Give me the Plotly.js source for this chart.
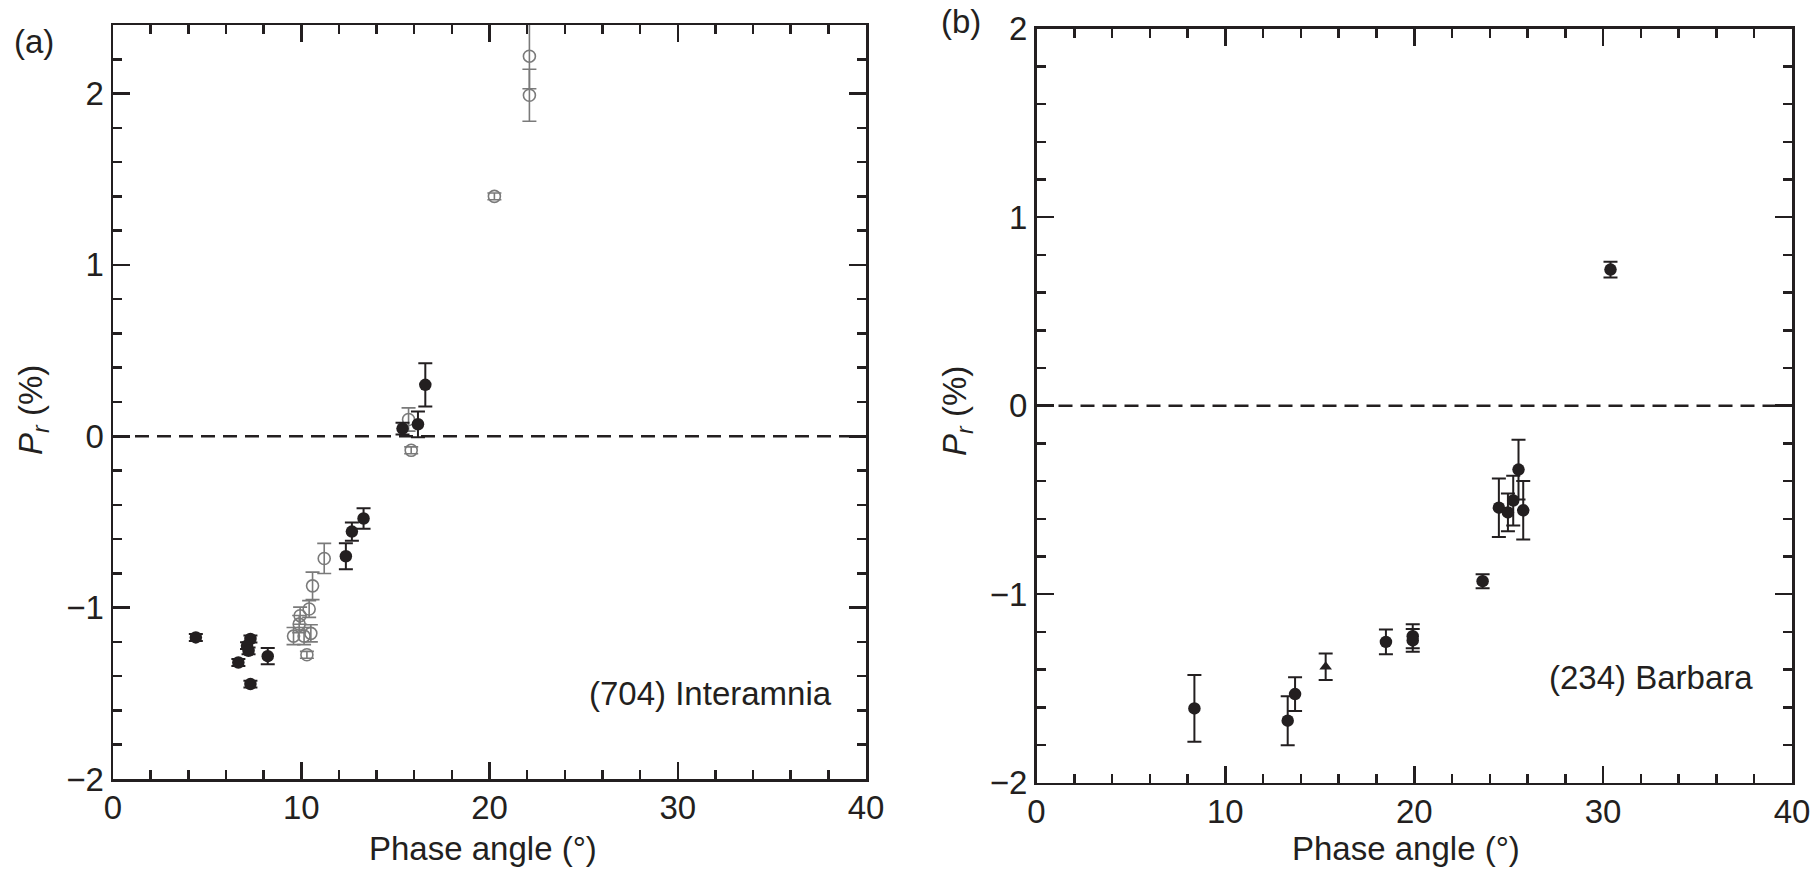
<!DOCTYPE html>
<html>
<head>
<meta charset="utf-8">
<script src="https://cdn.plot.ly/plotly-3.0.1.min.js"></script>
<style>html,body{margin:0;padding:0;background:#fff;}#chart{width:1816px;height:871px;}</style>
</head>
<body>
<div id="chart"></div>
<script>
// ---- Panel (a): (704) Interamnia ----
const aFilledX = [4.40, 6.66, 7.30, 7.12, 7.20, 7.30, 8.22, 12.37, 12.69, 13.31, 15.38, 16.20, 16.59];
const aFilledY = [-1.174, -1.320, -1.183, -1.222, -1.252, -1.446, -1.283, -0.700, -0.556, -0.480, 0.045, 0.070, 0.300];
const aFilledErr = [0.02, 0.02, 0.02, 0.02, 0.02, 0.02, 0.047, 0.076, 0.053, 0.060, 0.034, 0.075, 0.126];

const aOpenX = [15.70, 15.84, 11.22, 10.60, 10.42, 9.94, 9.89, 9.59, 10.15, 10.51, 10.30, 20.26, 22.12, 22.12];
const aOpenY = [0.098, -0.082, -0.713, -0.873, -1.008, -1.047, -1.096, -1.166, -1.166, -1.150, -1.275, 1.400, 2.218, 1.990];
const aOpenErr = [0.068, 0.02, 0.088, 0.080, 0.049, 0.05, 0.05, 0.05, 0.05, 0.05, 0.02, 0.02, 0.19, 0.152];

// ---- Panel (b): (234) Barbara ----
const bFilledX = [8.36, 13.30, 13.69, 18.50, 19.92, 19.92, 23.62, 24.48, 24.96, 25.24, 25.52, 25.77, 30.39];
const bFilledY = [-1.606, -1.671, -1.530, -1.253, -1.223, -1.245, -0.931, -0.541, -0.566, -0.503, -0.339, -0.555, 0.722];
const bFilledErr = [0.177, 0.130, 0.089, 0.066, 0.064, 0.060, 0.037, 0.155, 0.100, 0.132, 0.159, 0.155, 0.042];

const bTriX = [15.31];
const bTriY = [-1.385];
const bTriErr = [0.07];

const xTickVals = [0, 10, 20, 30, 40];
const xTitle = 'Phase angle (°)';
const yTitle = '<i>P</i><sub><i>r</i></sub> (%)';
const labelA = '(704) Interamnia';
const labelB = '(234) Barbara';

const INK = '#231f20';
const GREY = '#7a7a7a';
const FONT = 'Liberation Sans, Arial, Helvetica, sans-serif';
const W = 1816, H = 871;

function errBar(arr, color, thick) {
  return {type: 'data', array: arr, visible: true, color: color, thickness: thick, width: 7};
}

const traces = [
  {x: aOpenX, y: aOpenY, xaxis: 'x', yaxis: 'y', mode: 'markers', type: 'scatter',
   marker: {symbol: 'circle-open', size: 12, color: GREY, line: {width: 1.6, color: GREY}},
   error_y: errBar(aOpenErr, GREY, 1.6), cliponaxis: true},
  {x: aFilledX, y: aFilledY, xaxis: 'x', yaxis: 'y', mode: 'markers', type: 'scatter',
   marker: {symbol: 'circle', size: 12.5, color: INK},
   error_y: errBar(aFilledErr, INK, 2), cliponaxis: true},
  {x: bFilledX, y: bFilledY, xaxis: 'x2', yaxis: 'y2', mode: 'markers', type: 'scatter',
   marker: {symbol: 'circle', size: 12.5, color: INK},
   error_y: errBar(bFilledErr, INK, 2), cliponaxis: true},
  {x: bTriX, y: bTriY, xaxis: 'x2', yaxis: 'y2', mode: 'markers', type: 'scatter',
   marker: {symbol: 'triangle-up', size: 11, color: INK},
   error_y: errBar(bTriErr, INK, 2), cliponaxis: true}
];

function xAxis(domain, anchor) {
  return {
    domain: domain, anchor: anchor, range: [0, 40], tickvals: xTickVals,
    ticks: 'inside', ticklen: 17, tickwidth: 2.5, tickcolor: INK,
    showline: true, linecolor: INK, linewidth: 2.5, mirror: 'ticks',
    showgrid: false, zeroline: false, automargin: false,
    ticklabelstandoff: -2,
    tickfont: {family: FONT, size: 33, color: INK},
    minor: {dtick: 2, tick0: 0, ticks: 'inside', ticklen: 9, tickwidth: 2.5, tickcolor: INK, showgrid: false}
  };
}
function yAxis(domain, anchor, range) {
  return {
    domain: domain, anchor: anchor, range: range, dtick: 1, tick0: 0,
    ticks: 'inside', ticklen: 17, tickwidth: 2.5, tickcolor: INK,
    showline: true, linecolor: INK, linewidth: 2.5, mirror: 'ticks',
    showgrid: false, zeroline: false, automargin: false,
    tickfont: {family: FONT, size: 33, color: INK},
    minor: {dtick: 0.2, tick0: 0, ticks: 'inside', ticklen: 9, tickwidth: 2.5, tickcolor: INK, showgrid: false}
  };
}

function ann(text, x, y, extra) {
  return Object.assign({text: text, x: x, y: y, xref: 'paper', yref: 'paper', showarrow: false,
    xanchor: 'center', yanchor: 'middle', font: {family: FONT, size: 33, color: INK}}, extra || {});
}

const layout = {
  width: W, height: H,
  margin: {l: 0, r: 0, t: 0, b: 0, pad: 0},
  paper_bgcolor: '#ffffff', plot_bgcolor: '#ffffff',
  showlegend: false,
  font: {family: FONT, color: INK},
  xaxis: xAxis([113 / W, 866 / W], 'y'),
  yaxis: yAxis([1 - 779 / H, 1 - 25 / H], 'x', [-2, 2.4]),
  xaxis2: xAxis([1036.5 / W, 1792 / W], 'y2'),
  yaxis2: yAxis([1 - 782.7 / H, 1 - 28.7 / H], 'x2', [-2, 2]),
  shapes: [
    {type: 'line', xref: 'x', yref: 'y', x0: 0, x1: 40, y0: 0, y1: 0, layer: 'below',
     line: {color: INK, width: 2.5, dash: '14px,8px'}},
    {type: 'line', xref: 'x2', yref: 'y2', x0: 0, x1: 40, y0: 0, y1: 0, layer: 'below',
     line: {color: INK, width: 2.5, dash: '14px,8px'}}
  ],
  annotations: [
    ann('(a)', 12 / W, 1 - 42 / H, {xanchor: 'left'}),
    ann('(b)', 939 / W, 1 - 22 / H, {xanchor: 'left'}),
    ann(labelA, 38.28, -1.503, {xref: 'x', yref: 'y', xanchor: 'right'}),
    ann(labelB, 38.03, -1.44, {xref: 'x2', yref: 'y2', xanchor: 'right'}),
    ann(xTitle, 483 / W, 1 - 848 / H),
    ann(xTitle, 1406 / W, 1 - 848 / H),
    ann(yTitle, 33 / W, 1 - 410 / H, {textangle: -90}),
    ann(yTitle, 957 / W, 1 - 411 / H, {textangle: -90})
  ]
};

Plotly.newPlot('chart', traces, layout, {displayModeBar: false, staticPlot: true});
</script>
</body>
</html>
